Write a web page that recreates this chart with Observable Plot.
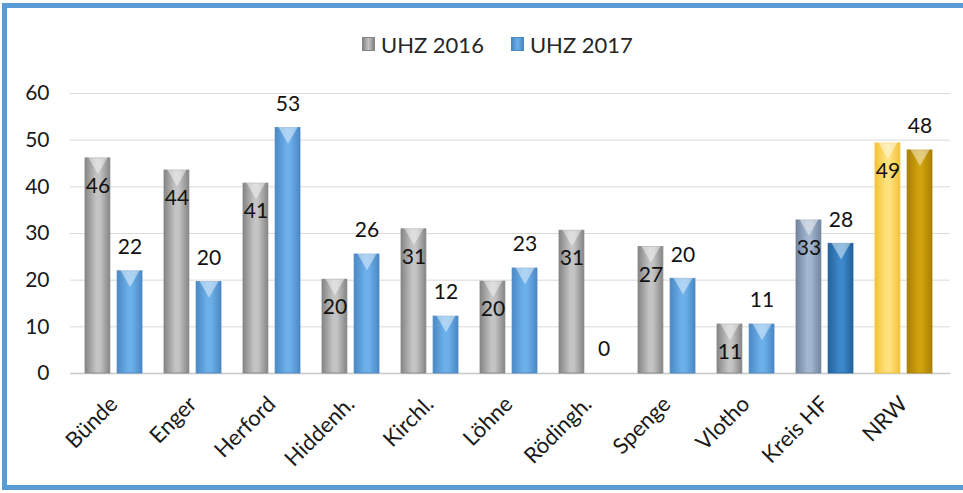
<!DOCTYPE html>
<html><head><meta charset="utf-8">
<script src="https://cdn.jsdelivr.net/npm/d3@7"></script>
<script src="https://cdn.jsdelivr.net/npm/@observablehq/plot@0.6"></script>
<style>
body{margin:0;background:#fff;overflow:hidden;font-family:Lato,"Open Sans",sans-serif}
#wrap{position:relative;width:963px;height:493px;overflow:hidden;background:#fff}
#frame{position:absolute;left:2px;top:3px;width:990px;height:477px;border:5px solid #5b9bd5;pointer-events:none}
#legend{position:absolute;left:362px;top:31px;height:26px;display:flex;align-items:center;font-size:22px;color:#262626;white-space:nowrap}
#legend .sw{display:inline-block;width:11px;height:12px;margin-right:6px}
#legend .item{display:flex;align-items:center;margin-right:27px}
#chart{position:absolute;left:0;top:75px}
</style></head>
<body>
<div id="wrap">
  <div id="legend"></div>
  <div id="chart"></div>
  <div id="frame"></div>
</div>
<script>
const categories = ["Bünde","Enger","Herford","Hiddenh.","Kirchl.","Löhne","Rödingh.","Spenge","Vlotho","Kreis HF","NRW"];
const series = ["UHZ 2016","UHZ 2017"];
const uhz2016 = [46.1,43.5,40.7,20.1,30.9,19.7,30.6,27.1,10.5,32.8,49.3];
const uhz2017 = [21.9,19.6,52.6,25.5,12.2,22.5,0,20.3,10.5,27.8,47.8];
const yTicks = [0,10,20,30,40,50,60];

// gradient key per bar (style)
function gradKey(cat, s){
  if (cat === "Kreis HF") return s === 0 ? "kreis16" : "kreis17";
  if (cat === "NRW") return s === 0 ? "nrw16" : "nrw17";
  return s === 0 ? "gray" : "blue";
}
const grads = {
  gray:["#858585","#c4c4c4"], blue:["#4a88c4","#6cb0ea"],
  kreis16:["#71859f","#a3b5cf"], kreis17:["#21629b","#3d88cb"],
  nrw16:["#f2c238","#ffe27e"], nrw17:["#a87f00","#d0a20e"]
};

const rows2016 = categories.map((c,i)=>({cat:c, v:uhz2016[i], g:gradKey(c,0)}));
const rows2017 = categories.map((c,i)=>({cat:c, v:uhz2017[i], g:gradKey(c,1)}));

const BW = 57.1, BAR = 25, OFF = (BW - BAR);
const fontLbl = 21;

const marks = [
  Plot.gridY(yTicks, {stroke:"#d9d9d9", strokeOpacity:1}),
  Plot.ruleY([0], {stroke:"#c8c8c8", strokeWidth:1.5})
];
for (const k of Object.keys(grads)) {
  const a = rows2016.filter(d=>d.g===k), b = rows2017.filter(d=>d.g===k);
  if (a.length) marks.push(Plot.barY(a, {x:"cat", y:"v", insetRight:OFF, fill:`url(#g-${k})`, stroke:grads[k][0], strokeWidth:0.8}));
  if (b.length) marks.push(Plot.barY(b, {x:"cat", y:"v", insetLeft:OFF, fill:`url(#g-${k})`, stroke:grads[k][0], strokeWidth:0.8}));
}
// chevron highlights at bar tops
marks.push(Plot.dot(rows2016.filter(d=>d.v>0), {x:"cat", y:"v", dx:-(BW/2-BAR/2), dy:4, symbol:"triangle", rotate:180, r:7.5, fill:"#fff", fillOpacity:0.45, stroke:"none"}));
marks.push(Plot.dot(rows2017.filter(d=>d.v>0), {x:"cat", y:"v", dx:(BW/2-BAR/2), dy:4, symbol:"triangle", rotate:180, r:7.5, fill:"#fff", fillOpacity:0.45, stroke:"none"}));
// value labels
marks.push(Plot.text(rows2016, {x:"cat", y:"v", text:d=>String(Math.round(d.v)), dx:-(BW/2-BAR/2), dy:28, fontSize:fontLbl, fill:"#111"}));
marks.push(Plot.text(rows2017, {x:"cat", y:"v", text:d=>String(Math.round(d.v)), dx:(BW/2-BAR/2), dy:-24, fontSize:fontLbl, fill:"#111"}));
marks.push(Plot.axisY(yTicks, {tickSize:0, tickPadding:21, fontSize:21, fill:"#1a1a1a", label:null}));
marks.push(Plot.axisX({tickSize:0, tickRotate:-45, tickPadding:27, fontSize:22, fill:"#1a1a1a", label:null, dx:0}));

const chart = Plot.plot({
  width:963, height:418,
  marginTop:18, marginBottom:120, marginLeft:70, marginRight:13,
  style:{fontFamily:"Lato, 'Open Sans', sans-serif", background:"transparent"},
  x:{domain:categories, range:[72,945], paddingInner:0.28, paddingOuter:0.14, axis:null},
  y:{domain:[0,60], axis:null},
  marks
});
// gradient defs
const svgNS = "http://www.w3.org/2000/svg";
const defs = document.createElementNS(svgNS, "defs");
for (const [k,[edge,mid]] of Object.entries(grads)) {
  const lg = document.createElementNS(svgNS, "linearGradient");
  lg.setAttribute("id", "g-"+k);
  lg.setAttribute("x1","0"); lg.setAttribute("x2","1"); lg.setAttribute("y1","0"); lg.setAttribute("y2","0");
  [[0,edge],[0.45,mid],[0.6,mid],[1,edge]].forEach(([o,c])=>{
    const st = document.createElementNS(svgNS,"stop");
    st.setAttribute("offset", o); st.setAttribute("stop-color", c); lg.appendChild(st);
  });
  defs.appendChild(lg);
}
chart.insertBefore(defs, chart.firstChild);
document.getElementById("chart").appendChild(chart);

// legend
const legend = document.getElementById("legend");
series.forEach((s,i)=>{
  const k = i===0 ? "gray" : "blue";
  const item = document.createElement("div"); item.className="item";
  const sw = document.createElement("span"); sw.className="sw";
  sw.style.background = `linear-gradient(to right, ${grads[k][0]}, ${grads[k][1]}, ${grads[k][0]})`;
  sw.style.border = `1px solid ${grads[k][0]}`;
  const t = document.createElement("span"); t.textContent = s;
  item.appendChild(sw); item.appendChild(t); legend.appendChild(item);
});
</script>
</body></html>
